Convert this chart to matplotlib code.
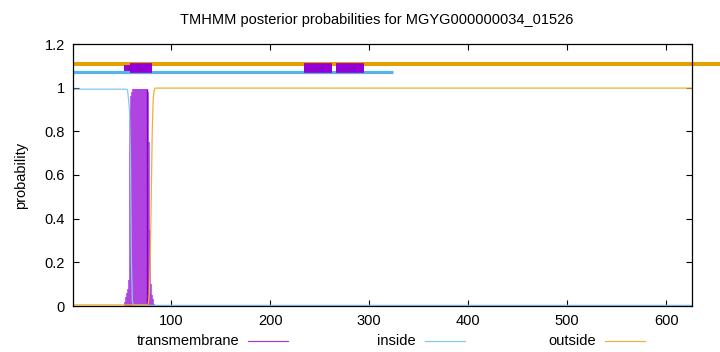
import matplotlib
matplotlib.use('Agg')
import matplotlib.pyplot as plt
from matplotlib.lines import Line2D

plt.rcParams['font.family'] = ['Liberation Sans', 'DejaVu Sans']
plt.rcParams['font.size'] = 10.5

seq_len = 626

# posterior curves
inside_x = [1, 55, 56, 57, 58, 59, 60, 61, 62, 626]
inside_y = [0.993, 0.993, 0.99, 0.95, 0.9, 0.7, 0.2, 0.02, 0.003, 0.003]

outside_x = [1, 76, 77, 78, 79, 80, 81, 82, 83, 84, 626]
outside_y = [0.005, 0.005, 0.01, 0.05, 0.2, 0.5, 0.8, 0.95, 0.99, 0.998, 0.998]

tm_x = [55, 56, 57, 58, 59, 60, 61, 62, 63, 64, 65, 66, 67, 68, 69, 70,
        71, 72, 73, 74, 75, 76, 77, 78, 79, 80, 81, 82]
tm_y = [0.02, 0.04, 0.06, 0.08, 0.12, 0.9, 0.96, 0.98, 0.995, 0.995, 0.995,
        0.995, 0.995, 0.995, 0.995, 0.995, 0.995, 0.995, 0.995, 0.995,
        0.995, 0.98, 0.75, 0.35, 0.1, 0.05, 0.03, 0.01]
tm_peak = 75.5

# predicted topology segments at the top
outside_seg = [(1, 660)]
inside_seg = [(1, 324)]
tm_seg = [(58.7, 81.2), (234, 263), (266.3, 294.7)]
tm_seg_thin = [(52.6, 58.7)]

fig = plt.figure(figsize=(7.2, 3.52), dpi=100)
ax = fig.add_axes([73/720, 46/352, 619/720, 262/352])

ax.vlines(tm_x, 0, tm_y, colors='#b044e0', lw=2.6)
ax.vlines([tm_peak], 0, 0.995, colors='#8a00c8', lw=1.0)
ax.plot(inside_x, inside_y, color='#88c8ec', lw=0.9)
ax.plot(outside_x, outside_y, color='#f0b030', lw=0.9)

for a, b in outside_seg:
    ax.plot([a, b], [1.11, 1.11], color='#e69f00', lw=2.9, clip_on=False,
            solid_capstyle='butt')
for a, b in inside_seg:
    ax.plot([a, b], [1.072, 1.072], color='#56b4e9', lw=2.3,
            solid_capstyle='butt')
for a, b in tm_seg_thin:
    ax.plot([a, b], [1.09, 1.09], color='#9400d3', lw=4.2,
            solid_capstyle='butt')
for a, b in tm_seg:
    ax.plot([a, b], [1.09, 1.09], color='#9400d3', lw=7.0,
            solid_capstyle='butt')

ax.set_xlim(1, seq_len)
ax.set_ylim(0, 1.2)
ax.set_xticks([100, 200, 300, 400, 500, 600])
ax.set_yticks([0, 0.2, 0.4, 0.6, 0.8, 1.0, 1.2])
ax.set_yticklabels(['0', '0.2', '0.4', '0.6', '0.8', '1', '1.2'])
ax.tick_params(direction='in', top=True, right=True, length=4, width=0.8,
               labelsize=10.5, pad=6)
for s in ax.spines.values():
    s.set_linewidth(0.9)

ax.set_ylabel('probability', fontsize=10.5, labelpad=12)
fig.text(377/720, 1 - 20/352, 'TMHMM posterior probabilities for MGYG000000034_01526',
         ha='center', va='center', fontsize=10.5)

# legend along the bottom
leg_names = ['transmembrane', 'inside', 'outside']
leg_colors = ['#a040d0', '#88c8ec', '#f0b040']
leg_text_end = [239, 416, 596]
ly = 1 - 341/352
for name, col, xe in zip(leg_names, leg_colors, leg_text_end):
    fig.text(xe/720, ly, name, ha='right', va='center', fontsize=10.5)
    fig.add_artist(Line2D([(xe + 9)/720, (xe + 49)/720], [ly, ly],
                          color=col, lw=0.9))

fig.savefig('out.png', dpi=100)
